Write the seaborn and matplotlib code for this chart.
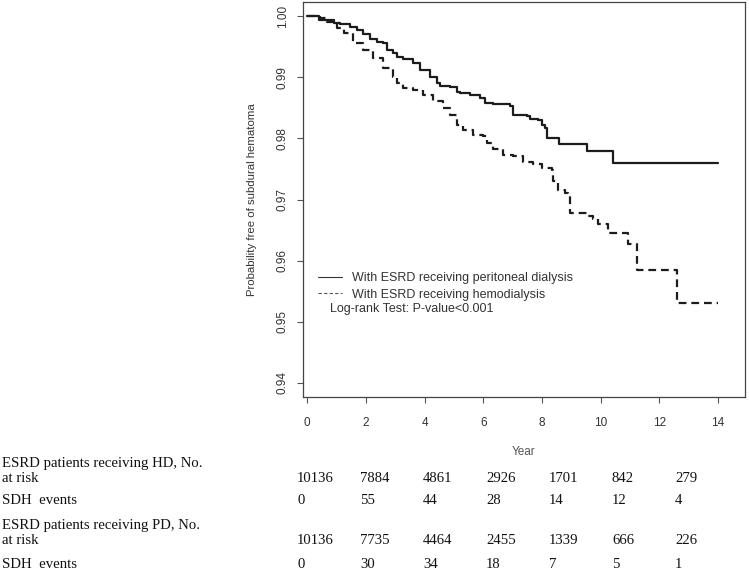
import numpy as np
import pandas as pd
import seaborn as sns
import matplotlib.pyplot as plt
from matplotlib.lines import Line2D

# Kaplan-Meier curves (step points)
pd_year = [0, 0.41, 0.90, 1.12, 1.46, 1.69, 1.92, 2.15, 2.37, 2.60,
           2.71, 2.94, 3.05, 3.28, 3.62, 3.85, 4.19, 4.42, 4.53, 4.87,
           5.10, 5.21, 5.55, 5.89, 6.06, 6.35, 6.91, 7.03, 7.48, 7.59,
           7.88, 7.99, 8.10, 8.16, 8.59, 9.55, 10.43, 14.01]
pd_surv = [1.0, 0.9993, 0.9988, 0.99864, 0.99826, 0.99772, 0.99701, 0.99620, 0.99582, 0.99554,
           0.99446, 0.99402, 0.99337, 0.99293, 0.99228, 0.99120, 0.99011, 0.98902, 0.98859, 0.98837,
           0.98766, 0.98739, 0.98712, 0.98658, 0.98576, 0.98565, 0.98533, 0.98386, 0.98370, 0.98315,
           0.98304, 0.98223, 0.98168, 0.98005, 0.97913, 0.97788, 0.97603, 0.97603]

hd_year = [0, 0.30, 0.44, 0.67, 1.01, 1.24, 1.58, 1.92, 2.26, 2.60,
           2.94, 3.05, 3.28, 3.62, 3.96, 4.30, 4.64, 4.87, 5.10, 5.32,
           5.66, 6.00, 6.12, 6.35, 6.69, 7.03, 7.37, 7.71, 7.99, 8.33,
           8.39, 8.56, 8.79, 8.90, 8.96, 9.52, 9.75, 9.92, 10.26, 10.94,
           11.23, 12.61, 14.01]
hd_surv = [1.0, 0.9999, 0.99962, 0.99908, 0.99799, 0.99717, 0.99554, 0.99446, 0.99310, 0.99147,
           0.99011, 0.98902, 0.98821, 0.98793, 0.98712, 0.98603, 0.98495, 0.98386, 0.98223, 0.98141,
           0.98060, 0.98033, 0.97924, 0.97826, 0.97734, 0.97707, 0.97609, 0.97587, 0.97516, 0.97489,
           0.97299, 0.97163, 0.97109, 0.97054, 0.96772, 0.96728, 0.96674, 0.96592, 0.96457, 0.96266,
           0.95848, 0.95315, 0.95315]

# numbers at risk table
hd_risk = [10136, 7884, 4861, 2926, 1701, 842, 279]
hd_events = [0, 55, 44, 28, 14, 12, 4]
pd_risk = [10136, 7735, 4464, 2455, 1339, 666, 226]
pd_events = [0, 30, 34, 18, 7, 5, 1]

legend_labels = ['With ESRD receiving peritoneal dialysis',
                 'With ESRD receiving hemodialysis']

sns.set_theme(style='white')
plt.rcParams['font.family'] = ['Liberation Sans', 'DejaVu Sans']

W, H = 749, 573
fig = plt.figure(figsize=(W / 100, H / 100), dpi=100)
# axes box in pixels: left 303, right 745, top 2, bottom 397
ax = fig.add_axes([303 / W, 1 - 397 / H, (745 - 303) / W, (397 - 2) / H])

line_col = '#1c1c1c'
txt_col = '#333333'

df_pd = pd.DataFrame({'year': pd_year, 'surv': pd_surv})
df_hd = pd.DataFrame({'year': hd_year, 'surv': hd_surv})

sns.lineplot(data=df_pd, x='year', y='surv', drawstyle='steps-post',
             color=line_col, lw=1.6, ax=ax)
sns.lineplot(data=df_hd, x='year', y='surv', drawstyle='steps-post',
             color=line_col, lw=1.6, linestyle=(0, (3.5, 2.2)), ax=ax)

ax.set_xlim(-0.14, 14.92)
ax.set_ylim(0.9377, 1.0023)
ax.set_xticks(np.arange(0, 15, 2))
ax.set_yticks([0.94, 0.95, 0.96, 0.97, 0.98, 0.99, 1.00])
ax.set_yticklabels(['%.2f' % v for v in ax.get_yticks()])

for s in ax.spines.values():
    s.set_color('#444444')
    s.set_linewidth(0.9)

ax.tick_params(axis='both', direction='out', length=4.3, width=0.8,
               color='#555555', labelsize=8.5, labelcolor=txt_col,
               bottom=True, left=True)
ax.tick_params(axis='x', pad=10)
ax.tick_params(axis='y', pad=6, labelrotation=90)
for lab in ax.get_yticklabels():
    lab.set_va('center')

ax.set_xlabel('Year', fontsize=8.5, color='#555555')
ax.set_ylabel('Probability free of subdural hematoma', fontsize=8.2, color=txt_col)
ax.xaxis.set_label_coords(0.5, -0.124)
ax.yaxis.set_label_coords(-0.104, 0.5)

handles = [Line2D([], [], color='#333333', lw=0.8),
           Line2D([], [], color='#555555', lw=0.8, linestyle=(0, (3, 2)))]
ax.legend(handles, legend_labels, loc='upper left',
          bbox_to_anchor=(0.034, 0.3165), frameon=False, borderpad=0,
          borderaxespad=0, handlelength=1.92, handletextpad=0.8,
          labelspacing=0.38, fontsize=9, labelcolor=txt_col)
ax.text(0.061, 0.223, 'Log-rank Test: P-value<0.001', transform=ax.transAxes,
        fontsize=9, color=txt_col, va='center', ha='left')

# risk table below the plot (Times-like font)
serif = dict(family='Liberation Serif', fontsize=10.6, color='#111111', va='center', ha='left')
rows = [
    (463, 'ESRD patients receiving HD, No.', None),
    (478, 'at risk', hd_risk),
    (501, 'SDH  events', hd_events),
    (525, 'ESRD patients receiving PD, No.', None),
    (541, 'at risk', pd_risk),
    (565, 'SDH  events', pd_events),
]
col_x = [297 + 63 * i for i in range(7)]
for y, label, vals in rows:
    fig.text(2 / W, 1 - y / H, label, **serif)
    if vals is not None:
        for x, v in zip(col_x, vals):
            fig.text(x / W, 1 - y / H, str(v), **serif)

fig.savefig('out.png', dpi=100)
